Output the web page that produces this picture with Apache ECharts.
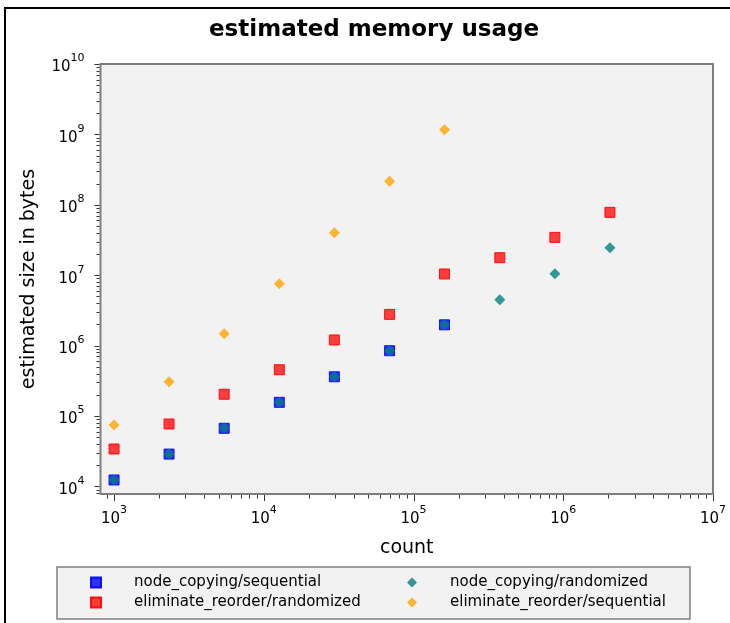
<!DOCTYPE html>
<html><head><meta charset="utf-8">
<script src="https://cdn.jsdelivr.net/npm/echarts@6/dist/echarts.min.js"></script>
<style>html,body{margin:0;padding:0;background:#fff}#c{width:730px;height:623px}</style>
</head><body><div id="c"></div>
<script>
// ---- data ----
const counts = [1000, 2330, 5440, 12700, 29600, 69200, 161000, 377000, 879000, 2050000];
const nodeCopyingSequential = [12300, 28700, 66700, 156000, 360000, 844000, 1970000];
const nodeCopyingRandomized = [12300, 28700, 66700, 156000, 360000, 844000, 1970000, 4480000, 10500000, 24500000];
const eliminateReorderRandomized = [33900, 76800, 203000, 453000, 1200000, 2770000, 10400000, 17700000, 34400000, 78000000];
const eliminateReorderSequential = [74100, 306000, 1470000, 7550000, 40000000, 215000000, 1160000000];
const seriesNames = ['node_copying/sequential', 'node_copying/randomized', 'eliminate_reorder/randomized', 'eliminate_reorder/sequential'];
const titleText = 'estimated memory usage';
const xName = 'count';
const yName = 'estimated size in bytes';
const xMin = 812, xMax = 1e7, yMin = 7775, yMax = 1e10;
const tickDigits = [1, 2, 3, 4, 5, 6, 7, 8, 9];
const xDecadeExps = [2, 3, 4, 5, 6, 7];
const yDecadeExps = [3, 4, 5, 6, 7, 8, 9, 10];

function pairs(vals) { return vals.map((v, i) => [counts[i], v]); }
function tickList(exps, lo, hi) {
  const out = [];
  exps.forEach(e => tickDigits.forEach(m => {
    const v = m * Math.pow(10, e);
    if (v >= lo * 0.999999 && v <= hi * 1.000001) out.push({ v: v, major: m === 1 ? 1 : 0 });
  }));
  return out;
}
const xTicks = tickList(xDecadeExps, xMin, xMax);
const yTicks = tickList(yDecadeExps, yMin, yMax);

const FONT = 'DejaVu Sans';
function powLabel(v) {
  const e = Math.log10(v);
  const r = Math.round(e);
  if (Math.abs(e - r) > 1e-6) return '';
  return '{b|10}{s|' + r + '}';
}
const labelRich = {
  b: { fontSize: 15, fontFamily: FONT, color: '#000', lineHeight: 22, verticalAlign: 'bottom' },
  s: { fontSize: 11, fontFamily: FONT, color: '#000', lineHeight: 22, verticalAlign: 'top' }
};

const chart = echarts.init(document.getElementById('c'), null, { renderer: 'canvas' });
const option = {
  animation: false,
  backgroundColor: '#fff',
  title: {
    text: titleText, left: 204, top: 14,
    textStyle: { fontFamily: FONT, fontSize: 23, fontWeight: 'bold', color: '#000' }
  },
  grid: {
    left: 100.5, right: 17, top: 64, bottom: 129,
    show: true, backgroundColor: '#f2f2f2', borderColor: '#7f7f7f', borderWidth: 2
  },
  xAxis: {
    type: 'log', logBase: 10, min: xMin, max: xMax,
    splitLine: { show: false }, axisLine: { show: false }, axisTick: { show: false },
    axisLabel: { formatter: powLabel, rich: labelRich, margin: 11, showMinLabel: true, showMaxLabel: true },
    name: xName, nameLocation: 'middle', nameGap: 45,
    nameTextStyle: { fontSize: 19, fontFamily: FONT, color: '#000' }
  },
  yAxis: {
    type: 'log', logBase: 10, min: yMin, max: yMax,
    splitLine: { show: false }, axisLine: { show: false }, axisTick: { show: false },
    axisLabel: { formatter: powLabel, rich: labelRich, margin: 16, showMinLabel: true, showMaxLabel: true },
    name: yName, nameLocation: 'middle', nameGap: 62, nameRotate: 90,
    nameTextStyle: { fontSize: 19, fontFamily: FONT, color: '#000' }
  },
  legend: [
    {
      data: [seriesNames[0], seriesNames[2]], orient: 'vertical', left: 90, top: 575, padding: 0,
      itemWidth: 10, itemHeight: 10, itemGap: 5, selectedMode: false,
      textStyle: { fontSize: 15, fontFamily: FONT, color: '#000', padding: [0, 0, 0, 28] }
    },
    {
      data: [seriesNames[1], seriesNames[3]], orient: 'vertical', left: 407, top: 575, padding: 0,
      itemWidth: 10, itemHeight: 10, itemGap: 5, selectedMode: false,
      textStyle: { fontSize: 15, fontFamily: FONT, color: '#000', padding: [0, 0, 0, 28] }
    }
  ],
  graphic: [
    { type: 'rect', z: -10, silent: true, shape: { x: 5, y: 8, width: 800, height: 700 },
      style: { fill: 'none', stroke: '#000', lineWidth: 2 } },
    { type: 'rect', z: -5, silent: true, shape: { x: 57, y: 567, width: 633, height: 52 },
      style: { fill: '#f2f2f2', stroke: '#7f7f7f', lineWidth: 1.5 } }
  ],
  series: [
    {
      name: seriesNames[0], type: 'scatter', symbol: 'rect', symbolSize: 10, z: 2,
      itemStyle: { color: 'rgba(0,0,255,0.8)', borderColor: 'rgba(0,0,255,0.9)', borderWidth: 1, opacity: 1 },
      data: pairs(nodeCopyingSequential)
    },
    {
      name: seriesNames[1], type: 'scatter', symbol: 'diamond', symbolSize: 11, z: 3,
      itemStyle: { color: 'rgba(0,128,128,0.8)', opacity: 1 },
      data: pairs(nodeCopyingRandomized)
    },
    {
      name: seriesNames[2], type: 'scatter', symbol: 'rect', symbolSize: 10, z: 4,
      itemStyle: { color: 'rgba(255,0,0,0.75)', borderColor: 'rgba(255,0,0,0.9)', borderWidth: 1, opacity: 1 },
      data: pairs(eliminateReorderRandomized)
    },
    {
      name: seriesNames[3], type: 'scatter', symbol: 'diamond', symbolSize: 11, z: 5,
      itemStyle: { color: 'rgba(255,165,0,0.8)', opacity: 1 },
      data: pairs(eliminateReorderSequential)
    },
    {
      name: 'xticks', type: 'custom', silent: true, clip: false, z: 10,
      encode: { x: 0, y: 1 },
      data: xTicks.map(t => [t.v, yMin, t.major]),
      renderItem: function (params, api) {
        const p = api.coord([api.value(0), yMin]);
        const len = api.value(2) ? 6 : 3.5;
        const x = Math.round(p[0]) + 0.5;
        return { type: 'line', shape: { x1: x, y1: p[1] + 1, x2: x, y2: p[1] + 1 + len },
          style: { stroke: '#333', lineWidth: 1 } };
      }
    },
    {
      name: 'yticks', type: 'custom', silent: true, clip: false, z: 10,
      encode: { x: 0, y: 1 },
      data: yTicks.map(t => [xMin, t.v, t.major]),
      renderItem: function (params, api) {
        const p = api.coord([xMin, api.value(1)]);
        const len = api.value(2) ? 5 : 3;
        const y = Math.round(p[1]) + 0.5;
        return { type: 'line', shape: { x1: p[0] - 1, y1: y, x2: p[0] - 1 - len, y2: y },
          style: { stroke: '#333', lineWidth: 1 } };
      }
    }
  ]
};
chart.setOption(option);
</script>
</body></html>
